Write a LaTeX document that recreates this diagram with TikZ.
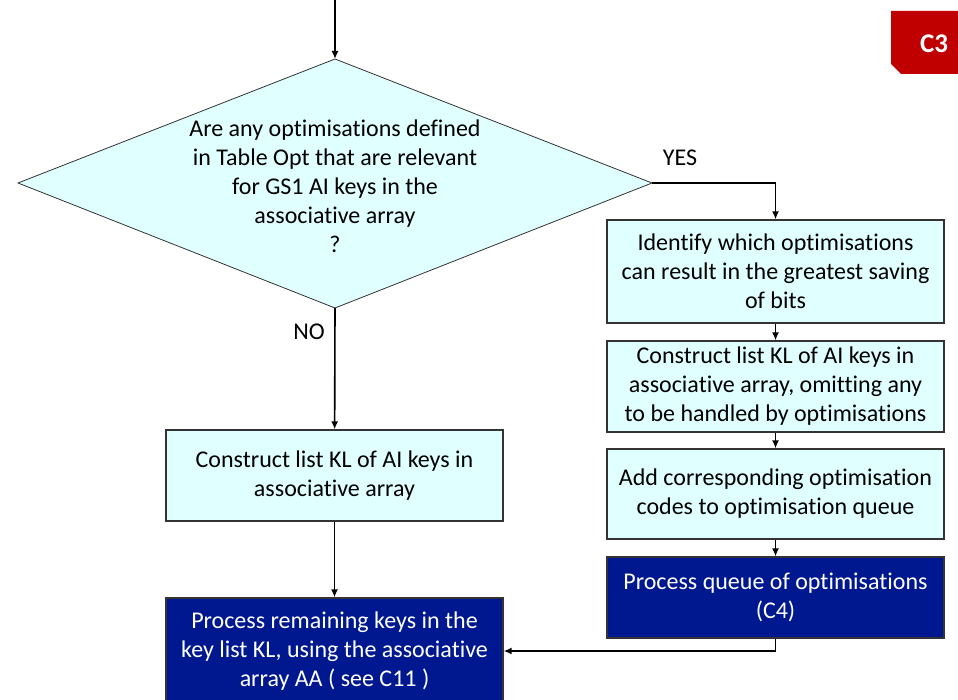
\documentclass[tikz,border=0pt]{standalone}
\usepackage{fontspec}
\setmainfont{Carlito}[Ligatures=NoCommon]
\usetikzlibrary{arrows.meta}
\definecolor{boxcyan}{RGB}{224,255,255}
\definecolor{procblue}{RGB}{0,24,143}
\definecolor{badgered}{RGB}{192,0,0}

\begin{document}
\begin{tikzpicture}[x=1pt,y=-1pt,>={Latex[length=8pt,width=7pt]},
	flow/.style={->,line width=1.6pt},
	txt/.style={font=\fontsize{24}{29}\selectfont,align=center},
	stepbox/.style={txt,draw=black!80,line width=1.2pt,fill=boxcyan,minimum width=337pt,inner sep=0pt},
	procbox/.style={stepbox,fill=procblue,text=white}]
	\useasboundingbox (0,0) rectangle (958,700);
	
	% decision
	\coordinate (qtop) at (335,59);
	\coordinate (qright) at (652,183);
	\coordinate (qbot) at (335,308);
	\coordinate (qleft) at (18,183);
	\coordinate (entry) at (335,0);
	\filldraw[fill=boxcyan,draw=black!80,line width=0.8pt] (qtop) -- (qright) -- (qbot) -- (qleft) -- cycle;
	\node[txt] (qtext) at (335,186) {Are any optimisations defined\\in Table Opt that are relevant\\for GS1 AI keys in the\\associative array\\?};
	
	% badge
	\fill[badgered] (891,11) -- (958,11) -- (958,74) -- (901,74) -- (891,64) -- cycle;
	\node[font=\fontsize{27}{30}\selectfont\bfseries,text=white] (badge) at (934,44) {C3};
	
	% boxes
	\node[stepbox,minimum height=103pt] (ident) at (775.5,271.5) {Identify which optimisations\\can result in the greatest saving\\of bits};
	\node[stepbox,minimum height=91pt] (klopt) at (775.5,386.5) {Construct list KL of AI keys in\\associative array, omitting any\\to be handled by optimisations};
	\node[stepbox,minimum height=90pt] (addq) at (775.5,494) {Add corresponding optimisation\\codes to optimisation queue};
	\node[procbox,minimum height=81pt] (procq) at (775.5,597.5) {Process queue of optimisations\\(C4)};
	\node[stepbox,minimum height=91pt] (klall) at (334.5,475.5) {Construct list KL of AI keys in\\associative array};
	\node[procbox,minimum height=106pt] (rest) at (334.5,651) {Process remaining keys in the\\key list KL, using the associative\\array AA ( see C11 )};
	
	% labels
	\node[txt] (yes) at (680,158) {YES};
	\node[txt] (no) at (309,332) {NO};
	
	% connectors
	\draw[flow] (entry) -- (qtop);
	\draw[flow] (qright) -| (ident.north);
	\draw[flow] (ident) -- (klopt);
	\draw[flow] (klopt) -- (addq);
	\draw[flow] (addq) -- (procq);
	\draw[flow] (qbot) -- (klall);
	\draw[flow] (klall) -- (rest);
	\draw[flow] (procq.south) |- (rest.east);
\end{tikzpicture}
\end{document}
